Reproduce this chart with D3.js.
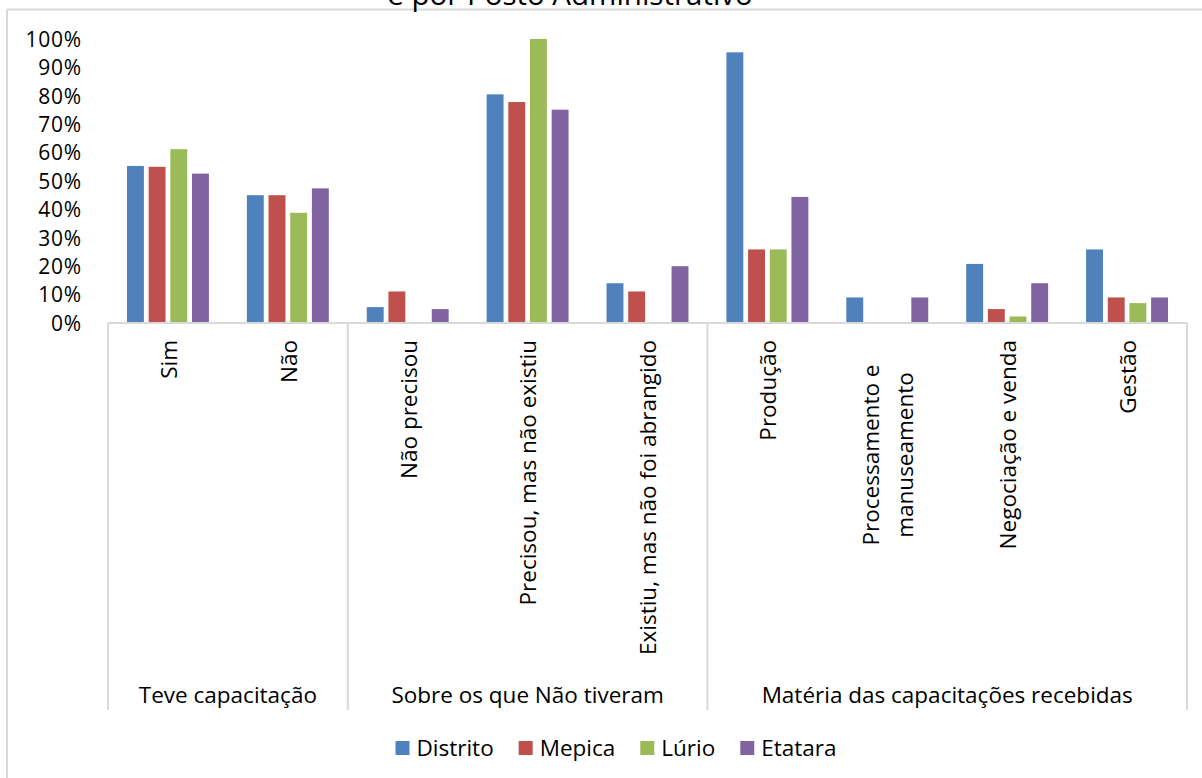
<!DOCTYPE html>
<html>
<head>
<meta charset="utf-8">
<script src="https://cdn.jsdelivr.net/npm/d3@7"></script>
<style>
  html, body { margin: 0; padding: 0; background: #fff; }
  svg { display: block; }
  text { font-family: "Open Sans", "Noto Sans", sans-serif; fill: #000; }
</style>
</head>
<body>
<svg id="chart" width="1202" height="778"></svg>
<script>
// ---------- data ----------
const categories = ["Sim", "Não", "Não precisou", "Precisou, mas não existiu",
  "Existiu, mas não foi abrangido", "Produção", "Processamento e manuseamento",
  "Negociação e venda", "Gestão"];
const groupLabels = ["Teve capacitação", "Sobre os que Não tiveram", "Matéria das capacitações recebidas"];
const groupSizes = [2, 3, 4];
const seriesNames = ["Distrito", "Mepica", "Lúrio", "Etatara"];
const distrito = [55.3, 45.0, 5.6, 80.5, 14.0, 95.3, 9.0, 20.8, 25.9];
const mepica   = [55.0, 45.0, 11.1, 77.8, 11.1, 25.9, 0, 4.9, 9.0];
const lurio    = [61.2, 38.8, 0, 100, 0, 25.9, 0, 2.3, 7.0];
const etatara  = [52.6, 47.4, 4.9, 75.1, 20.0, 44.4, 9.0, 14.0, 9.0];
const yTicks = [0, 10, 20, 30, 40, 50, 60, 70, 80, 90, 100];
const titleText = "e por Posto Administrativo";

const seriesValues = [distrito, mepica, lurio, etatara];
const colors = ["#4F81BD", "#C0504D", "#9BBB59", "#8064A2"];

// ---------- layout ----------
const svg = d3.select("#chart");
const plotLeft = 108, plotRight = 1187, yZero = 323, yTop = 39, axisBottom = 710;
const gridColor = "#d9d9d9";
const fontSize = 22.5;

// chart frame (partially visible)
svg.append("line").attr("x1", 7).attr("x2", 1202).attr("y1", 9.5).attr("y2", 9.5)
  .attr("stroke", gridColor).attr("stroke-width", 2);
svg.append("line").attr("x1", 7).attr("x2", 7).attr("y1", 9.5).attr("y2", 778)
  .attr("stroke", gridColor).attr("stroke-width", 2);

// title (cut at top, as in the reference)
svg.append("text").attr("x", 570).attr("y", 5).attr("text-anchor", "middle")
  .style("font-size", "29.5px").text(titleText);

const y = d3.scaleLinear().domain([0, 100]).range([yZero, yTop]);
const x0 = d3.scaleBand().domain(categories).range([plotLeft, plotRight]).padding(0);
const bw = x0.bandwidth();
const x1 = d3.scaleBand().domain(seriesNames)
  .range([bw / 2 - 43.35, bw / 2 + 43.35]).paddingInner(0.22).paddingOuter(0.11);

// y axis labels
const yAxis = d3.axisLeft(y).tickValues(yTicks).tickFormat(d => d + "%").tickSize(0).tickPadding(0);
const gy = svg.append("g").attr("transform", "translate(82,0)").call(yAxis);
gy.select(".domain").remove();
gy.selectAll("text").style("font-size", "21px").style("letter-spacing", "0.8px")
  .style("font-family", '"Open Sans", "Noto Sans", sans-serif').attr("fill", "#000")
  .attr("dy", "0.35em");

// bars
const cat = svg.append("g").selectAll("g").data(categories).join("g")
  .attr("transform", d => `translate(${x0(d)},0)`);
cat.selectAll("rect")
  .data((d, i) => seriesNames.map((s, k) => ({ s, k, v: seriesValues[k][i] })))
  .join("rect")
  .filter(d => d.v > 0)
  .attr("x", d => x1(d.s))
  .attr("width", x1.bandwidth())
  .attr("y", d => y(d.v))
  .attr("height", d => yZero - y(d.v))
  .attr("fill", d => colors[d.k]);

// category axis
const axisG = svg.append("g");
axisG.append("line").attr("x1", plotLeft).attr("x2", plotRight).attr("y1", yZero).attr("y2", yZero)
  .attr("stroke", gridColor).attr("stroke-width", 2);
let idx = 0;
const boundaries = [plotLeft];
const groupInfo = [];
groupSizes.forEach((n, g) => {
  const start = x0(categories[idx]);
  const end = x0(categories[idx + n - 1]) + bw;
  boundaries.push(end);
  groupInfo.push({ label: groupLabels[g], cx: (start + end) / 2 });
  idx += n;
});
axisG.selectAll("line.sep").data(boundaries).join("line").attr("class", "sep")
  .attr("x1", d => d).attr("x2", d => d).attr("y1", yZero).attr("y2", axisBottom)
  .attr("stroke", gridColor).attr("stroke-width", 2);

// category labels (rotated)
const wrapLines = c => c === "Processamento e manuseamento" ? ["Processamento e", "manuseamento"] : [c];
categories.forEach(c => {
  const lines = wrapLines(c);
  const cx = x0(c) + bw / 2;
  if (lines.length === 1) {
    svg.append("text")
      .attr("transform", `translate(${cx + 1},340) rotate(-90)`)
      .attr("text-anchor", "end").attr("dy", "0.35em")
      .style("font-size", fontSize + "px").text(lines[0]);
  } else {
    const lh = 34;
    lines.forEach((ln, j) => {
      const lx = cx + 1 + (j - (lines.length - 1) / 2) * lh;
      svg.append("text")
        .attr("transform", `translate(${lx},455) rotate(-90)`)
        .attr("text-anchor", "middle").attr("dy", "0.35em")
        .style("font-size", fontSize + "px").text(ln);
    });
  }
});

// group labels
svg.selectAll("text.grp").data(groupInfo).join("text").attr("class", "grp")
  .attr("x", d => d.cx).attr("y", 703).attr("text-anchor", "middle")
  .style("font-size", fontSize + "px").text(d => d.label);

// legend
const legend = svg.append("g");
let lx = 0;
seriesNames.forEach((s, k) => {
  const it = legend.append("g").attr("transform", `translate(${lx},0)`);
  it.append("rect").attr("x", 0).attr("y", -7).attr("width", 14).attr("height", 14).attr("fill", colors[k]);
  const t = it.append("text").attr("x", 21).attr("dy", "0.35em").style("font-size", fontSize + "px").text(s);
  lx += 21 + t.node().getComputedTextLength() + 25;
});
const legW = lx - 25;
legend.attr("transform", `translate(${616 - legW / 2},748)`);
</script>
</body>
</html>
